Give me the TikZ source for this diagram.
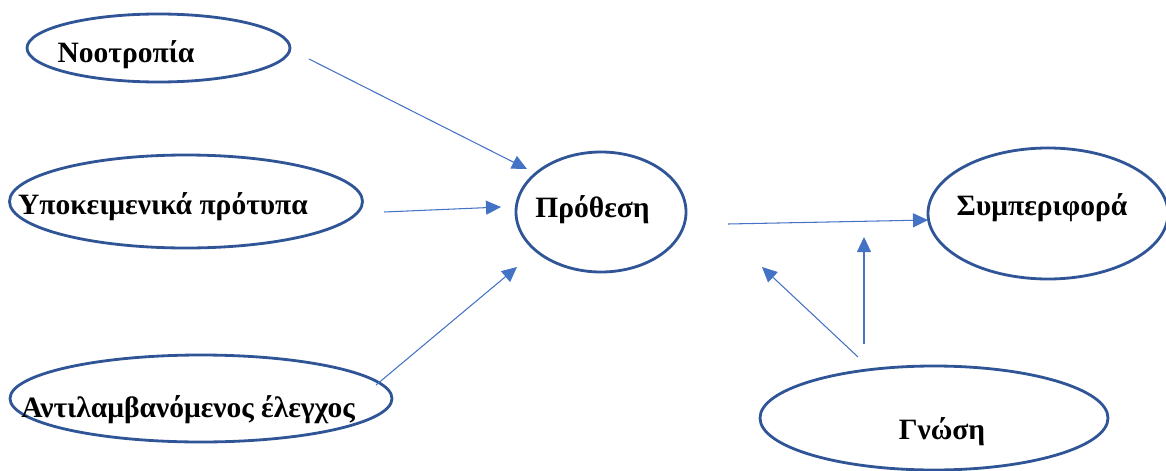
\documentclass[tikz,border=0pt]{standalone}
\usepackage{fontspec}
\setmainfont{Liberation Serif}
\usepackage{tikz}
\usetikzlibrary{shapes.geometric,arrows.meta,positioning}
\definecolor{ovalblue}{rgb}{0.184, 0.333, 0.592}
\definecolor{arrowblue}{rgb}{0.267, 0.447, 0.769}
\tikzset{
	oval/.style={ellipse,draw=ovalblue,line width=1.6pt,inner sep=0pt},
	txt/.style={font=\fontsize{16.8}{20}\selectfont\bfseries,anchor=base,inner sep=0pt},
	arr/.style={arrowblue,line width=0.6pt,-{Triangle[length=0.30cm,width=0.28cm]}}
}
\begin{document}
\begin{tikzpicture}
	\useasboundingbox (0,0) rectangle (23.32,9.40);

	\node[oval, minimum width=5.26cm, minimum height=1.36cm, label={[txt,xshift=-0.65cm,yshift=-0.14cm]center:Νοοτροπία}] (N) at (3.17,8.44) {};
	
	\node[oval, minimum width=7.06cm, minimum height=1.86cm, label={[txt,xshift=-0.46cm,yshift=-0.11cm]center:Υποκειμενικά πρότυπα}] (Y) at (3.72,5.37) {};
	
	\node[oval, minimum width=7.64cm, minimum height=1.74cm, label={[txt,xshift=-0.26cm,yshift=-0.23cm]center:Αντιλαμβανόμενος έλεγχος}] (A) at (4.02,1.43) {};

	\node[oval, minimum width=3.40cm, minimum height=2.40cm, label={[txt,xshift=-0.17cm,yshift=0.04cm]center:Πρόθεση}] (P) at (12.02,5.16) {};
	
	\node[oval, minimum width=4.80cm, minimum height=2.62cm, label={[txt,xshift=-0.12cm,yshift=0.11cm]center:Συμπεριφορά}] (S) at (20.96,5.13) {};
	
	\node[oval, minimum width=6.96cm, minimum height=2.08cm, label={[txt,xshift=0.16cm,yshift=-0.28cm]center:Γνώση}] (G) at (18.68,1.04) {};

	% free ends of the arrows
	\coordinate (N1) at (6.18,8.22);  \coordinate (P1) at (10.54,6.02);
	\coordinate (Y1) at (7.68,5.16);  \coordinate (P2) at (10.02,5.26);
	\coordinate (A1) at (7.52,1.70);  \coordinate (P3) at (10.34,4.06);
	\coordinate (P4) at (14.56,4.92); \coordinate (S1) at (18.56,5.00);
	\coordinate (G1) at (17.28,2.52); \coordinate (G2) at (17.28,4.66);
	\coordinate (G3) at (17.16,2.26); \coordinate (G4) at (15.24,4.06);

	\draw[arr] (N1) -- (P1);
	\draw[arr] (Y1) -- (P2);
	\draw[arr] (A1) -- (P3);
	\draw[arr] (P4) -- (S1);
	\draw[arr] (G1) -- (G2);
	\draw[arr] (G3) -- (G4);
\end{tikzpicture}
\end{document}
